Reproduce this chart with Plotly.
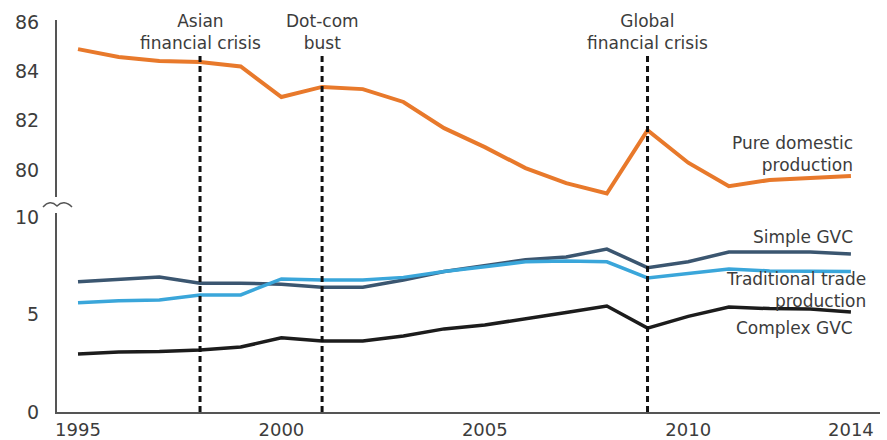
import plotly.graph_objects as go

years = list(range(1995, 2015))

pure_domestic = [84.9, 84.58, 84.42, 84.38, 84.2, 82.96, 83.37, 83.28, 82.76, 81.7,
                 80.93, 80.08, 79.47, 79.05, 81.62, 80.3, 79.35, 79.6, 79.68, 79.76]
simple_gvc = [6.67, 6.8, 6.92, 6.6, 6.6, 6.55, 6.4, 6.4, 6.77, 7.2,
              7.5, 7.8, 7.95, 8.35, 7.4, 7.7, 8.2, 8.2, 8.2, 8.1]
traditional = [5.6, 5.7, 5.74, 6.0, 6.0, 6.82, 6.77, 6.77, 6.9, 7.2,
               7.45, 7.7, 7.74, 7.7, 6.87, 7.1, 7.33, 7.23, 7.2, 7.2]
complex_gvc = [2.97, 3.07, 3.1, 3.18, 3.33, 3.8, 3.64, 3.64, 3.9, 4.26,
               4.46, 4.8, 5.1, 5.43, 4.3, 4.9, 5.38, 5.3, 5.28, 5.13]

x_tickvals = [1995, 2000, 2005, 2010, 2014]
low_tickvals = [0, 5, 10]
high_tickvals = [80, 82, 84, 86]

events = [(1998, "Asian<br>financial crisis"),
          (2001, "Dot-com<br>bust"),
          (2009, "Global<br>financial crisis")]

# layout in pixels
W, H = 887, 440
L, R, T, B = 57, 7, 20, 28
PW, PH = W - L - R, H - T - B


def px(xp):
    return (xp - L) / PW


def py(yp):
    return (H - B - yp) / PH


FONT = "DejaVu Sans"
TXT = "#3c3c3c"
AX = "#555555"

fig = go.Figure()
fig.add_trace(go.Scatter(x=years, y=pure_domestic, mode="lines", yaxis="y2",
                         line=dict(color="#E8792B", width=4), showlegend=False))
fig.add_trace(go.Scatter(x=years, y=simple_gvc, mode="lines",
                         line=dict(color="#3B5670", width=3.5), showlegend=False))
fig.add_trace(go.Scatter(x=years, y=traditional, mode="lines",
                         line=dict(color="#3AA6DA", width=3.5), showlegend=False))
fig.add_trace(go.Scatter(x=years, y=complex_gvc, mode="lines",
                         line=dict(color="#1C1C1C", width=3.5), showlegend=False))

shapes = []
for yr, _ in events:
    shapes.append(dict(type="line", xref="x", yref="paper", x0=yr, x1=yr,
                       y0=0, y1=py(54), line=dict(color="#111111", width=3, dash="6px,4px")))

# axis break squiggle
pts = [(43, 207), (50, 199), (57, 206), (64, 199), (72, 207)]
p = [(px(a), py(b)) for a, b in pts]
path = (f"M {p[0][0]},{p[0][1]} Q {p[1][0]},{p[1][1]} {p[2][0]},{p[2][1]} "
        f"Q {p[3][0]},{p[3][1]} {p[4][0]},{p[4][1]}")
shapes.append(dict(type="path", xref="paper", yref="paper", path=path,
                   line=dict(color=AX, width=1.5)))

annotations = []
for yr, t in events:
    annotations.append(dict(x=yr, xref="x", y=py(32), yref="paper",
                            text=t, showarrow=False, xanchor="center", yanchor="middle",
                            align="center", font=dict(family=FONT, size=17, color=TXT)))

labels = [
    ("Pure domestic<br>production", 855, 154),
    ("Simple GVC", 855, 237),
    ("Traditional trade<br>production", 868, 290),
    ("Complex GVC", 855, 328),
]
for t, xr, yc in labels:
    annotations.append(dict(x=px(xr), xref="paper", y=py(yc), yref="paper",
                            text=t, showarrow=False, xanchor="right", yanchor="middle",
                            align="right", font=dict(family=FONT, size=17, color=TXT)))

x_lo = 1995 - (78 - L) / 40.68
x_hi = 1995 + (W - R - 78) / 40.68

fig.update_layout(
    width=W, height=H,
    margin=dict(l=L, r=R, t=T, b=B, pad=0, autoexpand=False),
    paper_bgcolor="white", plot_bgcolor="white",
    font=dict(family=FONT, color=TXT),
    shapes=shapes, annotations=annotations,
    xaxis=dict(range=[x_lo, x_hi], tickvals=x_tickvals, ticktext=[str(v) for v in x_tickvals],
               showline=True, linecolor=AX, linewidth=2, ticks="", showgrid=False,
               zeroline=False, automargin=False,
               tickfont=dict(family=FONT, size=18, color=TXT)),
    yaxis=dict(domain=[0, py(213)], range=[0, 10.2], tickvals=low_tickvals,
               showline=True, linecolor=AX, linewidth=2, ticks="", showgrid=False,
               zeroline=False, ticklabelstandoff=12, automargin=False,
               tickfont=dict(family=FONT, size=19, color=TXT)),
    yaxis2=dict(domain=[py(197), 1], range=[78.91, 86.08], tickvals=high_tickvals,
                anchor="x", showline=True, linecolor=AX, linewidth=2, ticks="",
                showgrid=False, zeroline=False, ticklabelstandoff=12, automargin=False,
                tickfont=dict(family=FONT, size=19, color=TXT)),
)

fig.write_html("out.html", config={"displayModeBar": False},
               post_script="document.body.style.margin='0px';document.body.style.overflow='hidden';")
